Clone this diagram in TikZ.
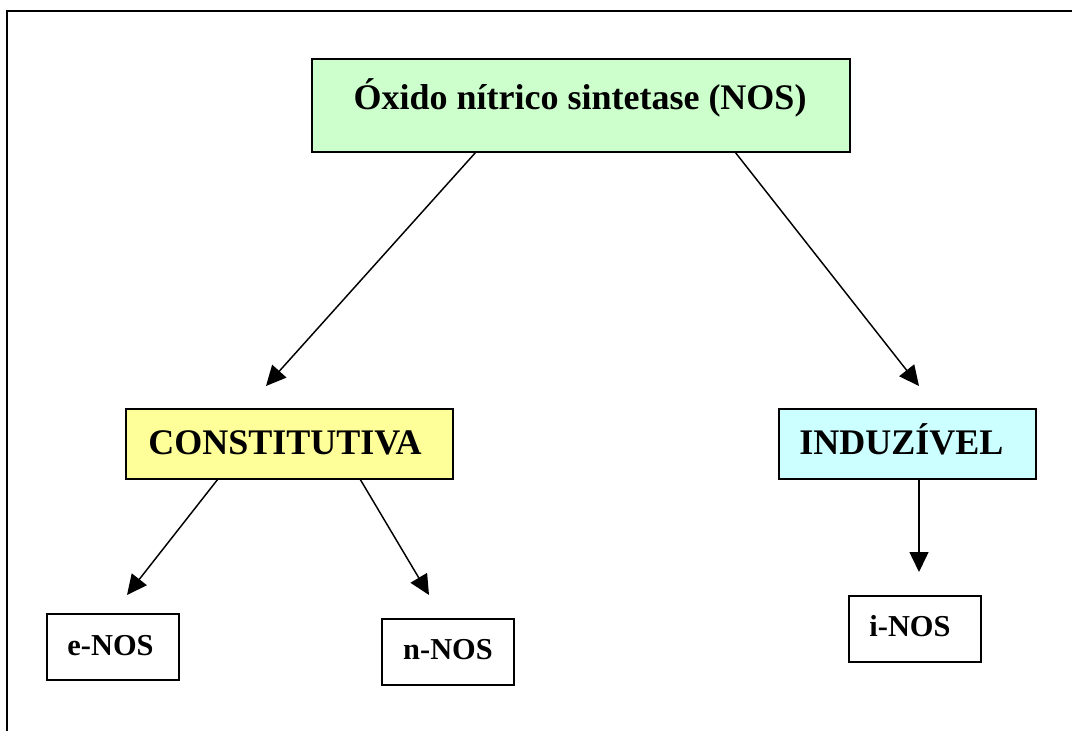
\documentclass[tikz,border=0pt]{standalone}
\usepackage{fontspec}
\setmainfont{Liberation Serif}
\usetikzlibrary{arrows.meta,calc}
\definecolor{nosgreen}{HTML}{CCFFCC}
\definecolor{consyellow}{HTML}{FFFF99}
\definecolor{indcyan}{HTML}{CCFFFF}
\begin{document}
\begin{tikzpicture}[x=0.75pt,y=-0.75pt,
  box/.style={draw=black,line width=1.2pt,inner sep=0pt,outer sep=0pt},
  bigtxt/.style={anchor=base,inner sep=0pt,font=\fontsize{27}{30}\selectfont\bfseries},
  smalltxt/.style={anchor=base,inner sep=0pt,font=\fontsize{22.8}{26}\selectfont\bfseries},
  conn/.style={line width=1.1pt,-{Triangle[length=15pt,width=14.25pt]}}]
\useasboundingbox (0,0) rectangle (1072,731);
% frame
\draw[line width=1.6pt] (1072,11) -- (7,11) -- (7,731);
% boxes
\node[box,fill=nosgreen,minimum width=538*0.75pt,minimum height=93*0.75pt] (nos) at (581,105.5) {};
\node[box,fill=consyellow,minimum width=327*0.75pt,minimum height=70*0.75pt] (const) at (289.5,444) {};
\node[box,fill=indcyan,minimum width=257*0.75pt,minimum height=70*0.75pt] (ind) at (907.5,444) {};
\node[box,fill=white,minimum width=132*0.75pt,minimum height=66*0.75pt] (enos) at (113,647) {};
\node[box,fill=white,minimum width=132*0.75pt,minimum height=66*0.75pt] (nnos) at (448,652) {};
\node[box,fill=white,minimum width=132*0.75pt,minimum height=66*0.75pt] (inos) at (915,629) {};
% texts
\node[bigtxt] (tnos) at (580,110) {Óxido nítrico sintetase (NOS)};
\node[bigtxt] (tconst) at (285,454) {CONSTITUTIVA};
\node[bigtxt] (tind) at (901.5,454) {INDUZÍVEL};
\node[smalltxt] (tenos) at (110.5,655) {e-NOS};
\node[smalltxt] (tnnos) at (448,659) {n-NOS};
\node[smalltxt] (tinos) at (910,636) {i-NOS};
% connectors
\draw[conn] ($(nos.south)+(-105,0)$) -- ($(const.north)+(-23.5,-23)$);
\draw[conn] ($(nos.south)+(154,0)$) -- ($(ind.north)+(11.5,-23)$);
\draw[conn] ($(const.south)+(-71.5,0)$) -- ($(enos.north)+(14,-19)$);
\draw[conn] ($(const.south)+(70.5,0)$) -- ($(nnos.north)+(-19,-24)$);
\draw[conn] ($(ind.south)+(11.5,0)$) -- ($(inos.north)+(4,-24)$);
\end{tikzpicture}
\end{document}
